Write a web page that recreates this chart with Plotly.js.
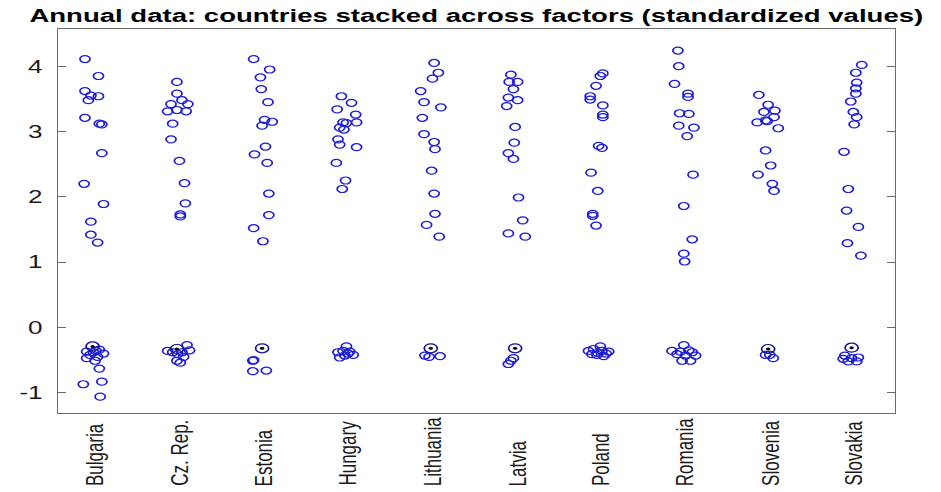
<!DOCTYPE html>
<html>
<head>
<meta charset="utf-8">
<script src="https://cdn.plot.ly/plotly-3.0.1.min.js"></script>
<style>
  html, body { margin: 0; padding: 0; overflow: hidden; background: #fff; }
  #wrap { width: 941px; height: 492px; overflow: hidden; }
  #chart { transform-origin: 0 0; }
</style>
</head>
<body>
<div id="wrap"><div id="chart"></div></div>
<script>
// ---- data ----
const categories = ['Bulgaria', 'Cz. Rep.', 'Estonia', 'Hungary', 'Lithuania', 'Latvia', 'Poland', 'Romania', 'Slovenia', 'Slovakia'];
const yTickValues = [-1, 0, 1, 2, 3, 4];
const yTickLabels = ['-1', '0', '1', '2', '3', '4'];

const bulgariaValues = [4.11, 3.85, 3.62, 3.55, 3.54, 3.48, 3.21, 3.12, 3.11, 2.67, 2.20, 1.89, 1.62, 1.42, 1.30, -0.37, -0.38, -0.40, -0.36, -0.47, -0.51, -0.63, -0.83, -0.87, -1.06, -0.42, -0.34, -0.45];
const bulgariaJitter = [-0.12, 0.04, -0.12, -0.05, 0.04, -0.08, -0.12, 0.05, 0.08, 0.08, -0.13, 0.10, -0.05, -0.05, 0.03, -0.10, -0.02, 0.10, 0.01, -0.10, 0.00, 0.05, 0.08, -0.14, 0.06, -0.06, 0.05, 0.03];

const czRepValues = [3.76, 3.58, 3.48, 3.42, 3.42, 3.31, 3.33, 3.31, 3.12, 2.88, 2.55, 2.21, 1.90, 1.73, 1.70, -0.36, -0.27, -0.38, -0.45, -0.51, -0.38, -0.54, -0.41, -0.35];
const czRepJitter = [-0.03, -0.03, 0.03, -0.10, 0.10, -0.14, -0.03, 0.08, -0.08, -0.10, 0.00, 0.06, 0.07, 0.01, 0.01, -0.14, 0.09, 0.03, 0.05, -0.03, -0.08, 0.01, -0.02, 0.12];

const estoniaValues = [4.11, 3.95, 3.83, 3.65, 3.45, 3.18, 3.15, 3.09, 2.77, 2.65, 2.52, 2.05, 1.72, 1.52, 1.32, -0.51, -0.50, -0.67, -0.66];
const estoniaJitter = [-0.12, 0.07, -0.04, -0.03, 0.05, 0.01, 0.10, -0.02, 0.02, -0.11, 0.04, 0.06, 0.06, -0.12, -0.01, -0.13, -0.12, -0.13, 0.03];

const hungaryValues = [3.54, 3.44, 3.34, 3.26, 3.14, 3.13, 3.14, 3.06, 3.03, 2.88, 2.80, 2.76, 2.52, 2.25, 2.12, -0.29, -0.38, -0.37, -0.42, -0.46, -0.43, -0.36, -0.40];
const hungaryJitter = [-0.08, 0.04, -0.13, 0.09, -0.06, -0.02, 0.10, -0.10, -0.05, -0.12, -0.10, 0.10, -0.14, -0.03, -0.07, -0.02, -0.12, 0.02, 0.06, -0.10, -0.04, -0.06, 0.00];

const lithuaniaValues = [4.05, 3.90, 3.81, 3.62, 3.45, 3.37, 3.21, 2.96, 2.84, 2.73, 2.40, 2.05, 1.74, 1.57, 1.39, -0.45, -0.44, -0.43];
const lithuaniaJitter = [0.02, 0.07, 0.00, -0.14, -0.10, 0.10, -0.12, -0.10, 0.02, 0.03, -0.01, 0.02, 0.03, -0.07, 0.08, -0.04, 0.09, -0.09];

const latviaValues = [3.87, 3.76, 3.76, 3.65, 3.52, 3.48, 3.39, 3.07, 2.83, 2.67, 2.58, 1.99, 1.64, 1.44, 1.39, -0.47, -0.51, -0.56];
const latviaJitter = [-0.07, -0.09, 0.01, -0.04, -0.10, 0.01, -0.12, -0.02, -0.03, -0.10, -0.04, 0.02, 0.07, -0.10, 0.10, -0.04, -0.07, -0.10];

const polandValues = [3.89, 3.85, 3.70, 3.54, 3.49, 3.40, 3.26, 3.22, 2.78, 2.75, 2.37, 2.09, 1.74, 1.71, 1.56, -0.29, -0.36, -0.33, -0.36, -0.37, -0.42, -0.44, -0.41, -0.39, -0.40];
const polandJitter = [0.02, -0.01, -0.06, -0.13, -0.13, 0.02, 0.02, 0.02, -0.03, 0.01, -0.12, -0.04, -0.10, -0.10, -0.06, -0.01, -0.15, -0.09, 0.01, 0.09, -0.05, 0.03, -0.11, -0.04, 0.06];

const romaniaValues = [4.24, 4.00, 3.73, 3.58, 3.53, 3.28, 3.27, 3.09, 3.06, 2.93, 2.34, 1.86, 1.35, 1.13, 1.01, -0.27, -0.36, -0.37, -0.35, -0.43, -0.51, -0.51, -0.41, -0.43, -0.38];
const romaniaJitter = [-0.09, -0.08, -0.13, 0.03, 0.03, -0.07, 0.04, -0.08, 0.10, 0.02, 0.09, -0.02, 0.08, -0.02, -0.01, -0.02, -0.16, -0.06, 0.04, 0.12, -0.04, 0.06, -0.10, 0.00, 0.08];

const sloveniaValues = [3.56, 3.41, 3.32, 3.30, 3.22, 3.14, 3.16, 3.17, 3.05, 2.71, 2.48, 2.34, 2.20, 2.09, -0.42, -0.47, -0.42];
const sloveniaJitter = [-0.13, -0.02, 0.06, -0.07, 0.05, -0.15, -0.03, -0.05, 0.10, -0.05, 0.01, -0.14, 0.03, 0.05, -0.05, 0.04, 0.00];

const slovakiaValues = [4.02, 3.90, 3.75, 3.66, 3.58, 3.46, 3.30, 3.22, 3.11, 2.69, 2.12, 1.79, 1.54, 1.29, 1.10, -0.43, -0.47, -0.46, -0.52, -0.52, -0.48];
const slovakiaJitter = [0.09, 0.02, 0.03, 0.02, 0.02, -0.04, -0.01, 0.03, 0.00, -0.12, -0.07, -0.09, 0.05, -0.08, 0.08, -0.11, -0.03, 0.05, -0.07, 0.03, -0.13];

const medianValues = [-0.29, -0.33, -0.32, null, -0.32, -0.32, null, null, -0.33, -0.31];
const medianJitter = [-0.03, -0.03, -0.02, 0, -0.02, -0.02, 0, 0, -0.02, -0.03];

// ---- build ----
const seriesValues = [bulgariaValues, czRepValues, estoniaValues, hungaryValues, lithuaniaValues, latviaValues, polandValues, romaniaValues, sloveniaValues, slovakiaValues];
const seriesJitter = [bulgariaJitter, czRepJitter, estoniaJitter, hungaryJitter, lithuaniaJitter, latviaJitter, polandJitter, romaniaJitter, sloveniaJitter, slovakiaJitter];

const STRETCH = 1.45;           // reference image is stretched horizontally
const W = 941 / STRETCH, H = 492;
const MT = 29, MB = 79;
document.getElementById('chart').style.transform = 'scaleX(' + STRETCH + ')';

const px = [], py = [];
seriesValues.forEach((vals, i) => {
  vals.forEach((v, j) => { px.push(i + 1 + seriesJitter[i][j]); py.push(v); });
});
const mx = [], my = [];
medianValues.forEach((v, i) => { if (v !== null) { mx.push(i + 1 + medianJitter[i]); my.push(v); } });

const blue = 'rgb(30,30,215)';
const traces = [
  { type: 'scatter', mode: 'markers', x: px, y: py, hoverinfo: 'skip',
    marker: { symbol: 'circle-open', size: 7, color: blue, line: { width: 1.2, color: blue } } },
  { type: 'scatter', mode: 'markers', x: mx, y: my, hoverinfo: 'skip',
    marker: { symbol: 'circle-open', size: 9, color: 'rgb(20,20,150)', line: { width: 1.2, color: 'rgb(20,20,150)' } } },
  { type: 'scatter', mode: 'markers', x: mx, y: my, hoverinfo: 'skip',
    marker: { symbol: 'circle', size: 3, color: '#000' } }
];

const font = 'Liberation Sans, Arial, Helvetica, sans-serif';
const plotH = H - MT - MB;
// category labels: rotated, bottom-aligned like the reference
const labelAnnotations = categories.map((c, i) => ({
  text: c, x: i + 1, xref: 'x', y: -(488 - (H - MB)) / plotH, yref: 'paper',
  xanchor: 'center', yanchor: 'bottom', textangle: -90, showarrow: false,
  font: { family: font, size: 17, color: '#1a1a1a' }
}));

const layout = {
  width: W, height: H,
  paper_bgcolor: '#fff', plot_bgcolor: '#fff',
  showlegend: false,
  margin: { l: 58 / STRETCH, r: (941 - 894) / STRETCH, t: MT, b: MB },
  title: { text: 'Annual data: countries stacked across factors (standardized values)',
           font: { family: font, size: 19, color: '#000', weight: 'bold' },
           x: 0.5, xanchor: 'center', xref: 'paper', y: 1 - 15 / H, yref: 'container', yanchor: 'middle' },
  xaxis: {
    range: [0.56, 10.48], tickmode: 'array', tickvals: categories.map((c, i) => i + 1),
    showticklabels: false, ticks: '', showgrid: false, zeroline: false,
    showline: true, mirror: true, linecolor: '#6b6b6b', linewidth: 1
  },
  yaxis: {
    range: [-1.31, 4.57], tickmode: 'array', tickvals: yTickValues, ticktext: yTickLabels,
    ticks: 'inside', ticklen: 8 / STRETCH, tickwidth: 1, tickcolor: '#6b6b6b',
    showgrid: false, zeroline: false,
    showline: true, mirror: 'allticks', linecolor: '#6b6b6b', linewidth: 1,
    tickfont: { family: font, size: 18, color: '#1a1a1a' }, ticklabelstandoff: 6
  },
  annotations: labelAnnotations
};

Plotly.newPlot('chart', traces, layout, { staticPlot: true, displayModeBar: false });
</script>
</body>
</html>
